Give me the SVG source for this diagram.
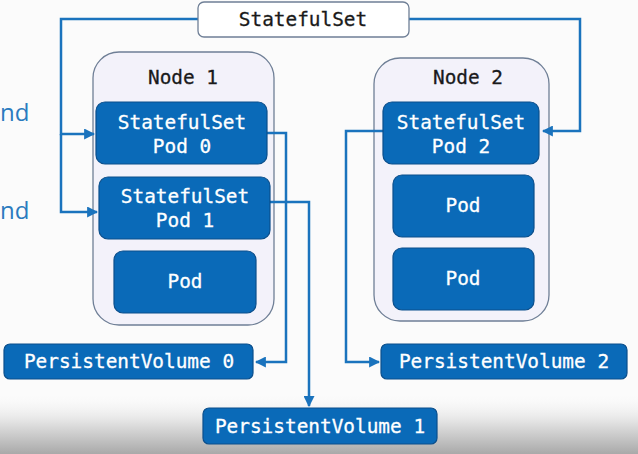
<svg xmlns="http://www.w3.org/2000/svg" width="638" height="454" viewBox="0 0 638 454">
<style>
.t{font-family:"DejaVu Sans Mono","Liberation Mono",monospace;font-size:19.4px;text-anchor:middle}
.w{fill:#ffffff;stroke:#ffffff;stroke-width:0.3}
.k{fill:#1a1a1a;stroke:#1a1a1a;stroke-width:0.3}
.pod{fill:#0a6ab8;stroke:#0b4f8c;stroke-width:1.2}
.node{fill:#f3f2fa;stroke:#6f7f96;stroke-width:1.3}
.c{fill:none;stroke:#1a73bd;stroke-width:2.5}
</style>
<defs>
<linearGradient id="bg" x1="0" y1="0" x2="0" y2="1">
<stop offset="0" stop-color="#ffffff" stop-opacity="0"/>
<stop offset="0.5" stop-color="#e2e2e2"/>
<stop offset="1" stop-color="#a9a9a9"/>
</linearGradient>
<marker id="a" viewBox="0 0 10 10" refX="9" refY="5" markerWidth="4.4" markerHeight="4.4" orient="auto">
<path d="M0,0 L10,5 L0,10 z" fill="#1a73bd"/>
</marker>
</defs>
<rect width="638" height="454" fill="#fbfbfb"/>
<rect x="0" y="390" width="638" height="64" fill="url(#bg)"/>
<text x="0" y="121" style="font-family:'Open Sans','Liberation Sans',sans-serif;font-size:24px;fill:#2b7bbf">nd</text>
<text x="0" y="219" style="font-family:'Open Sans','Liberation Sans',sans-serif;font-size:24px;fill:#2b7bbf">nd</text>

<g id="node1"><rect class="node" x="93" y="52" width="181" height="273" rx="26"/><text class="t k" x="183" y="84">Node 1</text></g>
<g id="node2"><rect class="node" x="374" y="58" width="175" height="263" rx="26"/><text class="t k" x="468" y="84">Node 2</text></g>

<g id="connectors">
<path class="c" d="M198,19 H61 V134 H94" marker-end="url(#a)"/>
<path class="c" d="M61,134 V212 H97" marker-end="url(#a)"/>
<path class="c" d="M409,19 H580 V131 H543" marker-end="url(#a)"/>
<path class="c" d="M267,133 H286 V362 H256" marker-end="url(#a)"/>
<path class="c" d="M270,202 H309 V406" marker-end="url(#a)"/>
<path class="c" d="M383,131 H346 V362 H379" marker-end="url(#a)"/>
</g>

<g id="statefulset"><rect x="198" y="2" width="211" height="35" rx="6" fill="#ffffff" stroke="#6f7f96" stroke-width="1.3"/><text class="t k" x="303" y="26">StatefulSet</text></g>
<g id="pod0"><rect class="pod" x="96" y="102" width="171" height="62" rx="9"/><text class="t w" x="182" y="129">StatefulSet</text><text class="t w" x="182" y="153">Pod 0</text></g>
<g id="pod1"><rect class="pod" x="99" y="177" width="171" height="62" rx="9"/><text class="t w" x="185" y="203">StatefulSet</text><text class="t w" x="185" y="227">Pod 1</text></g>
<g id="pod1b"><rect class="pod" x="114" y="251" width="142" height="62" rx="9"/><text class="t w" x="185" y="288">Pod</text></g>
<g id="pod2"><rect class="pod" x="383" y="102" width="156" height="62" rx="9"/><text class="t w" x="461" y="129">StatefulSet</text><text class="t w" x="461" y="153">Pod 2</text></g>
<g id="pod2a"><rect class="pod" x="393" y="175" width="141" height="62" rx="9"/><text class="t w" x="463" y="212">Pod</text></g>
<g id="pod2b"><rect class="pod" x="393" y="248" width="141" height="62" rx="9"/><text class="t w" x="463" y="285">Pod</text></g>
<g id="pv0"><rect class="pod" x="4" y="344" width="249" height="35" rx="6"/><text class="t w" x="129" y="368">PersistentVolume 0</text></g>
<g id="pv1"><rect class="pod" x="203" y="408" width="234" height="36" rx="6"/><text class="t w" x="320" y="433">PersistentVolume 1</text></g>
<g id="pv2"><rect class="pod" x="381" y="344" width="246" height="35" rx="6"/><text class="t w" x="504" y="368">PersistentVolume 2</text></g>
</svg>
